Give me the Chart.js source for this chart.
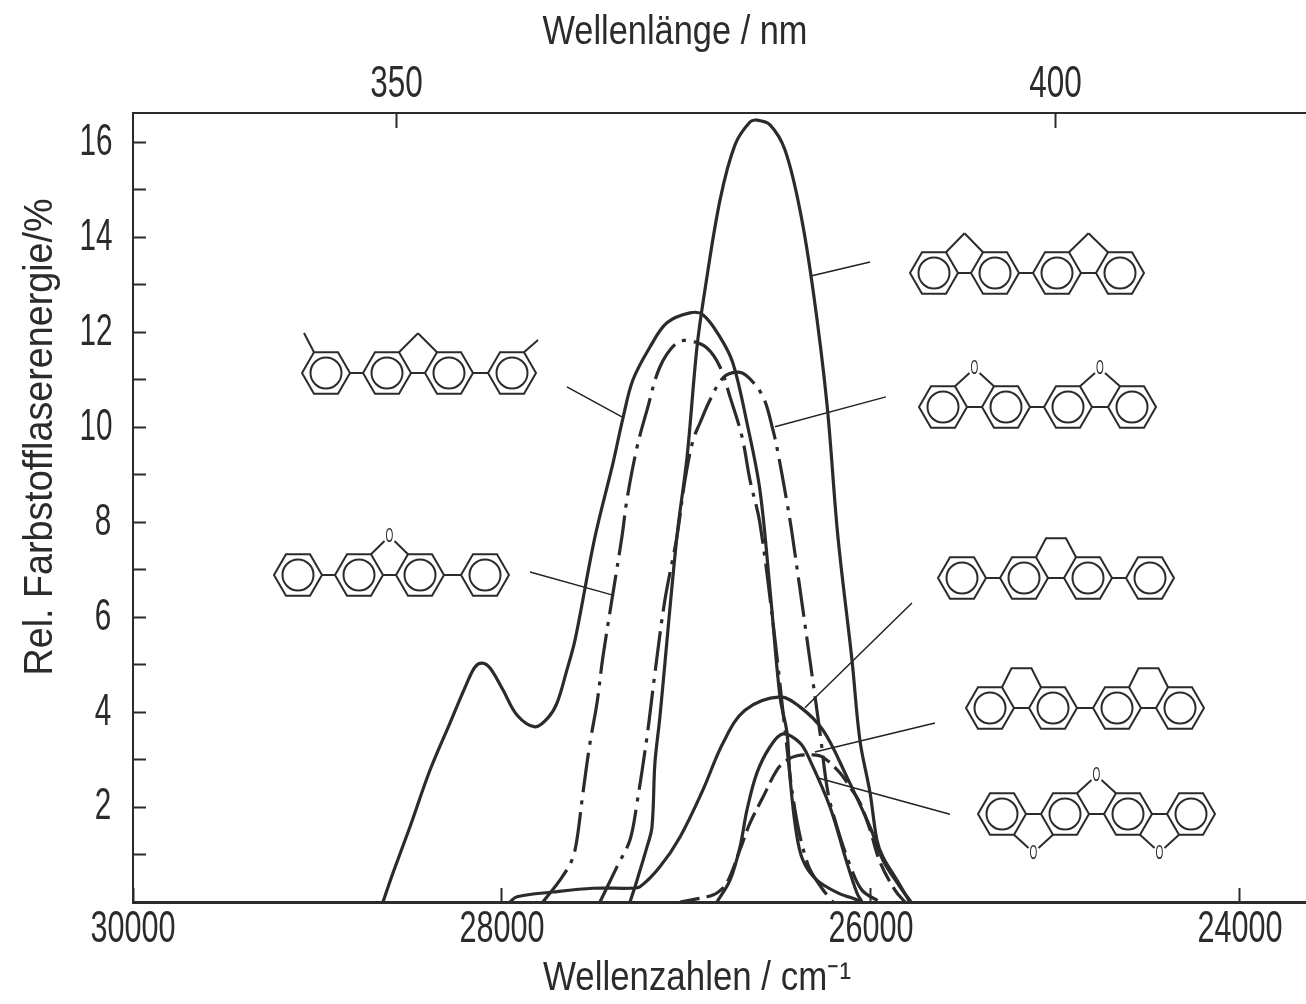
<!DOCTYPE html>
<html lang="de">
<head>
<meta charset="utf-8">
<title>Rel. Farbstofflaserenergie</title>
<script src="https://cdn.jsdelivr.net/npm/chart.js@4/dist/chart.umd.min.js"></script>
<style>
    html, body { margin: 0; padding: 0; background: #fff; overflow: hidden; }
    canvas { display: block; }
</style>
</head>
<body>
<canvas id="chart" width="1306" height="1004"></canvas>
<script>
// Wellenzahlen (cm-1) und Energie (%)
const shoulderX = [28645, 28591, 28499, 28390, 28282, 28190, 28146, 28108, 28065, 27995, 27919, 27821, 27751, 27702, 27648, 27604, 27496, 27398, 27344, 27290, 27198, 27106, 26981, 26911, 26818, 26748, 26672, 26602, 26547, 26493, 26455, 26439, 26407, 26369, 26293, 26168, 26098, 26049];
const shoulderY = [0, 0.61, 1.58, 2.78, 3.77, 4.61, 4.95, 5.03, 4.93, 4.47, 3.94, 3.69, 3.88, 4.19, 4.89, 5.52, 7.69, 9.25, 10.2, 11.0, 11.69, 12.2, 12.41, 12.37, 11.9, 11.35, 10.09, 8.68, 6.57, 4.32, 3.56, 2.63, 1.52, 0.88, 0.46, 0.17, 0.08, 0];

const oxoPhenylX = [27778, 27686, 27621, 27594, 27561, 27523, 27485, 27453, 27350, 27323, 27268, 27214, 27144, 27052, 26981, 26889, 26818, 26764, 26699, 26656, 26602, 26520, 26466, 26412, 26341, 26266, 26206];
const oxoPhenylY = [0, 0.46, 0.88, 1.31, 2.3, 3.35, 4.19, 5.16, 7.69, 8.47, 9.58, 10.36, 11.27, 11.78, 11.82, 11.67, 11.27, 10.64, 9.8, 8.89, 7.98, 5.52, 3.62, 1.94, 0.78, 0.29, 0];

const oxoDimerX = [27469, 27377, 27306, 27268, 27214, 27171, 27117, 27052, 27008, 26965, 26927, 26873, 26802, 26726, 26667, 26585, 26531, 26504, 26455, 26428, 26331, 26276, 26233, 26179, 26114, 26049, 25951];
const oxoDimerY = [0, 0.74, 1.31, 2.09, 3.48, 4.82, 6.36, 7.69, 8.89, 9.72, 10.09, 10.57, 11.04, 11.16, 11.06, 10.64, 9.94, 9.46, 8.41, 7.77, 5.1, 3.56, 2.3, 1.52, 0.78, 0.25, 0];

const fluoreneX = [27306, 27268, 27214, 27187, 27171, 27144, 27052, 26997, 26943, 26900, 26818, 26737, 26656, 26618, 26547, 26466, 26385, 26314, 26239, 26179, 26103, 26060, 26005, 25968, 25935, 25859, 25789];
const fluoreneY = [0, 0.46, 1.16, 1.58, 2.93, 3.9, 7.69, 9.37, 11.69, 12.89, 14.79, 15.95, 16.43, 16.47, 16.37, 15.84, 14.58, 12.89, 10.51, 7.69, 5.1, 3.41, 2.3, 1.31, 0.95, 0.46, 0];

const dihydroPhenylX = [27957, 27919, 27724, 27507, 27306, 27252, 27144, 27035, 26911, 26802, 26683, 26493, 26385, 26260, 26130, 26005, 25935, 25843, 25783];
const dihydroPhenylY = [0, 0.11, 0.21, 0.29, 0.29, 0.32, 0.74, 1.37, 2.36, 3.35, 4.04, 4.32, 4.11, 3.62, 2.63, 1.58, 0.88, 0.32, 0];

const triOxoX = [26835, 26764, 26710, 26672, 26618, 26547, 26477, 26385, 26331, 26222, 26130, 26076, 26049];
const triOxoY = [0, 0.46, 1.16, 1.94, 2.72, 3.27, 3.54, 3.35, 2.99, 2.0, 0.82, 0.19, 0];

const dihydroDimerX = [27035, 26889, 26835, 26781, 26710, 26656, 26585, 26510, 26455, 26401, 26314, 26260, 26168, 26114, 26060, 26005, 25951, 25870, 25816];
const dihydroDimerY = [0, 0.11, 0.19, 0.4, 1.1, 1.66, 2.21, 2.78, 2.99, 3.08, 3.1, 3.05, 2.72, 2.42, 2.09, 1.52, 0.84, 0.25, 0];

// Hinweislinien von den Kurven zu den Strukturformeln: [x1, y1, x2, y2]
const leaderLines = [
    [27648, 10.85, 27350, 10.22],
    [27848, 6.95, 27404, 6.47],
    [26320, 13.19, 26005, 13.48],
    [26520, 10.01, 25919, 10.64],
    [26358, 4.09, 25778, 6.30],
    [26304, 3.16, 25653, 3.77],
    [26287, 2.61, 25572, 1.85]
];

const xTicks = [30000, 28000, 26000, 24000];
const yTicks = [0, 1, 2, 3, 4, 5, 6, 7, 8, 9, 10, 11, 12, 13, 14, 15, 16];
const wavelengthTicks = [350, 400];

const xMin = 23642, xMax = 30000, yMax = 16.62;
const INK = '#2b2b2b';
const FONT = '"Liberation Sans", sans-serif';
const DASH_DOT = [40, 8, 4, 8];

function points(xs, ys) {
    return xs.map((x, i) => ({ x: x, y: ys[i] }));
}

function curve(label, xs, ys, dash) {
    return {
        label: label,
        data: points(xs, ys),
        showLine: true,
        borderColor: INK,
        borderWidth: 3.2,
        borderDash: dash || [],
        pointRadius: 0,
        tension: 0.35
    };
}

const datasets = [
    curve('Methylphenyl-Fluoren', shoulderX, shoulderY),
    curve('Phenyl-Dibenzofuran', oxoPhenylX, oxoPhenylY, DASH_DOT),
    curve('Bi-Dibenzofuran', oxoDimerX, oxoDimerY, DASH_DOT),
    curve('Bifluorenyl', fluoreneX, fluoreneY),
    curve('Phenyl-Dihydrophenanthren', dihydroPhenylX, dihydroPhenylY),
    curve('Tri-Furan', triOxoX, triOxoY),
    curve('Bi-Dihydrophenanthren', dihydroDimerX, dihydroDimerY, [20, 7])
];

leaderLines.forEach((l, i) => {
    datasets.push({
        label: 'Hinweis ' + (i + 1),
        data: [{ x: l[0], y: l[1] }, { x: l[2], y: l[3] }],
        showLine: true,
        borderColor: '#222',
        borderWidth: 1.5,
        pointRadius: 0
    });
});

// Schmale Schrift gibt es nicht, also horizontal stauchen
function narrowText(ctx, text, x, y, size, sx) {
    ctx.save();
    ctx.font = size + 'px ' + FONT;
    ctx.textAlign = 'center';
    ctx.textBaseline = 'middle';
    ctx.fillStyle = INK;
    ctx.translate(x, y);
    ctx.scale(sx, 1);
    ctx.fillText(text, 0, 0);
    ctx.restore();
}

// Text auf eine vorgegebene Breite bringen
function fittedText(ctx, text, x, y, size, width) {
    ctx.save();
    ctx.font = size + 'px ' + FONT;
    const sx = width / ctx.measureText(text).width;
    ctx.restore();
    narrowText(ctx, text, x, y, size, sx);
}

function drawTickLabels(chart) {
    const ctx = chart.ctx;
    const s = chart.scales;
    s.x.ticks.forEach(t => {
        if (t.label) narrowText(ctx, t.label, s.x.getPixelForValue(t.value), 930, 45, 0.68);
    });
    s.x2.ticks.forEach(t => {
        if (t.label) narrowText(ctx, t.label, s.x2.getPixelForValue(t.value), 85, 45, 0.7);
    });
    s.y.ticks.forEach(t => {
        if (!t.label) return;
        const w = t.label.length === 2 ? 14 : 7;
        narrowText(ctx, t.label, 110 - w, s.y.getPixelForValue(t.value), 45, 0.66);
    });
}

// Strukturformeln: Ringe, Bindungen und O-Atome
const R = 24, DX = 12, DY = 20.8;

function line(ctx, x1, y1, x2, y2) {
    ctx.beginPath();
    ctx.moveTo(x1, y1);
    ctx.lineTo(x2, y2);
    ctx.stroke();
}

function ring(ctx, cx, cy) {
    ctx.beginPath();
    ctx.moveTo(cx - R, cy);
    ctx.lineTo(cx - DX, cy - DY);
    ctx.lineTo(cx + DX, cy - DY);
    ctx.lineTo(cx + R, cy);
    ctx.lineTo(cx + DX, cy + DY);
    ctx.lineTo(cx - DX, cy + DY);
    ctx.closePath();
    ctx.stroke();
    ctx.beginPath();
    ctx.arc(cx, cy, 15.5, 0, Math.PI * 2);
    ctx.stroke();
}

function chain(ctx, xs, cy) {
    xs.forEach((cx, i) => {
        ring(ctx, cx, cy);
        if (i > 0) line(ctx, xs[i - 1] + R, cy, cx - R, cy);
    });
}

// CH2-Bruecke oben zwischen zwei Ringen
function apex(ctx, a, b, cy) {
    const mx = (a + b) / 2;
    line(ctx, a + DX, cy - DY, mx, cy - DY - 19);
    line(ctx, b - DX, cy - DY, mx, cy - DY - 19);
}

// CH2-CH2-Bruecke oben
function ethano(ctx, a, b, cy) {
    const mx = (a + b) / 2;
    ctx.beginPath();
    ctx.moveTo(a + DX, cy - DY);
    ctx.lineTo(mx - 10, cy - DY - 19);
    ctx.lineTo(mx + 10, cy - DY - 19);
    ctx.lineTo(b - DX, cy - DY);
    ctx.stroke();
}

// O-Bruecke, sign -1 oben, +1 unten
function oxo(ctx, a, b, cy, sign) {
    const mx = (a + b) / 2;
    line(ctx, a + DX, cy + sign * DY, mx - 5, cy + sign * 34);
    line(ctx, b - DX, cy + sign * DY, mx + 5, cy + sign * 34);
    narrowText(ctx, 'O', mx, cy + sign * 39, 20, 0.5);
}

function drawMolecules(ctx) {
    ctx.save();
    ctx.strokeStyle = INK;
    ctx.lineWidth = 2;

    let r = [934, 995, 1057, 1120];
    chain(ctx, r, 273);
    apex(ctx, r[0], r[1], 273);
    apex(ctx, r[2], r[3], 273);

    r = [943, 1006, 1068, 1132];
    chain(ctx, r, 407);
    oxo(ctx, r[0], r[1], 407, -1);
    oxo(ctx, r[2], r[3], 407, -1);

    r = [326, 387, 449, 512];
    chain(ctx, r, 373);
    apex(ctx, r[1], r[2], 373);
    line(ctx, r[0] - DX, 373 - DY, 304, 333);
    line(ctx, r[3] + DX, 373 - DY, 538, 340);

    r = [298, 359, 420, 485];
    chain(ctx, r, 575);
    oxo(ctx, r[1], r[2], 575, -1);

    r = [962, 1024, 1088, 1150];
    chain(ctx, r, 578);
    ethano(ctx, r[1], r[2], 578);

    r = [990, 1053, 1117, 1180];
    chain(ctx, r, 708);
    ethano(ctx, r[0], r[1], 708);
    ethano(ctx, r[2], r[3], 708);

    r = [1002, 1065, 1128, 1191];
    chain(ctx, r, 814);
    oxo(ctx, r[1], r[2], 814, -1);
    oxo(ctx, r[0], r[1], 814, 1);
    oxo(ctx, r[2], r[3], 814, 1);

    ctx.restore();
}

function drawTitles(ctx) {
    fittedText(ctx, 'Wellenlänge / nm', 675, 33, 40, 265);
    fittedText(ctx, 'Wellenzahlen / cm⁻¹', 697, 979, 40, 308);
    ctx.save();
    ctx.translate(41, 437);
    ctx.rotate(-Math.PI / 2);
    fittedText(ctx, 'Rel. Farbstofflaserenergie/%', 0, 0, 40, 477);
    ctx.restore();
}

const extras = {
    id: 'extras',
    beforeDraw(chart) {
        chart.ctx.save();
        chart.ctx.fillStyle = '#fff';
        chart.ctx.fillRect(0, 0, chart.width, chart.height);
        chart.ctx.restore();
    },
    afterDraw(chart) {
        drawTickLabels(chart);
        drawMolecules(chart.ctx);
        drawTitles(chart.ctx);
    }
};

function noPadding(scale) {
    scale.paddingLeft = 0;
    scale.paddingRight = 0;
}

new Chart(document.getElementById('chart'), {
    type: 'scatter',
    data: { datasets: datasets },
    plugins: [extras],
    options: {
        responsive: false,
        animation: false,
        layout: { padding: 0 },
        plugins: { legend: { display: false }, tooltip: { enabled: false } },
        scales: {
            x: {
                type: 'linear',
                position: 'bottom',
                reverse: true,
                min: xMin,
                max: xMax,
                afterBuildTicks(scale) { scale.ticks = xTicks.map(v => ({ value: v })); },
                afterFit(scale) { scale.height = 102; noPadding(scale); },
                border: { color: INK, width: 3 },
                grid: { drawOnChartArea: false, tickLength: -14, tickWidth: 2, tickColor: INK },
                ticks: { display: false, maxRotation: 0, autoSkip: false, callback: v => String(v) }
            },
            x2: {
                type: 'linear',
                position: 'top',
                reverse: true,
                min: xMin,
                max: xMax,
                afterBuildTicks(scale) { scale.ticks = wavelengthTicks.map(nm => ({ value: 1e7 / nm })); },
                afterFit(scale) { scale.height = 113; noPadding(scale); },
                border: { color: INK, width: 2 },
                grid: { drawOnChartArea: false, tickLength: -15, tickWidth: 2, tickColor: INK },
                ticks: { display: false, maxRotation: 0, autoSkip: false, callback: v => String(Math.round(1e7 / v)) }
            },
            y: {
                type: 'linear',
                position: 'left',
                min: 0,
                max: yMax,
                afterBuildTicks(scale) { scale.ticks = yTicks.map(v => ({ value: v })); },
                afterFit(scale) { scale.width = 133; },
                border: { color: INK, width: 2 },
                grid: { drawOnChartArea: false, tickLength: -13, tickWidth: 2, tickColor: INK },
                ticks: {
                    display: false,
                    autoSkip: false,
                    callback: v => (v > 0 && v % 2 === 0 ? String(v) : '')
                }
            }
        }
    }
});
</script>
</body>
</html>
